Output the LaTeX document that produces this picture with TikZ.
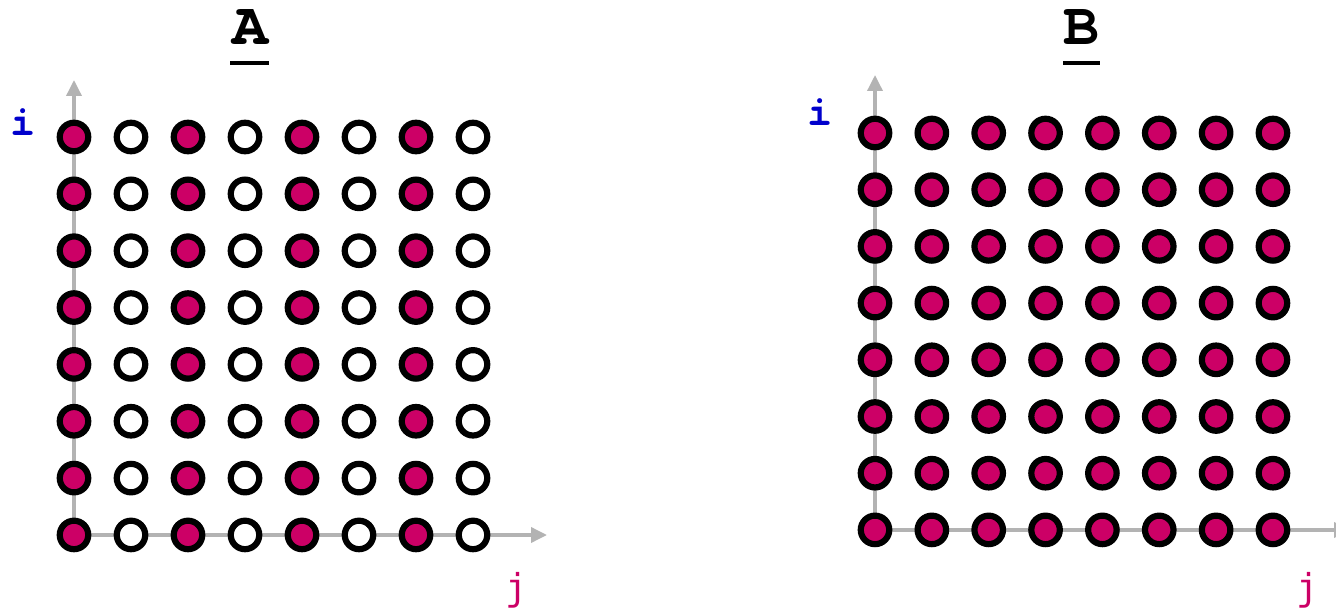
\documentclass[tikz,border=0pt]{standalone}
\usepackage{fontspec}
\setmonofont{TeX Gyre Cursor}
\newfontfamily\djmono{DejaVu Sans Mono}
\usetikzlibrary{arrows.meta}
\definecolor{mag}{HTML}{CC0066}
\definecolor{iblue}{HTML}{0000CC}
\definecolor{axgray}{HTML}{B3B3B3}
\begin{document}
\begin{tikzpicture}[x=1pt,y=-1pt,
  dotfull/.style={circle,draw=black,fill=mag,line width=6.2pt,minimum size=28.5pt,inner sep=0pt},
  dotopen/.style={circle,draw=black,fill=white,line width=6.2pt,minimum size=28.5pt,inner sep=0pt},
  axisline/.style={draw=axgray,line width=3.5pt,-{Triangle[length=16pt,width=15pt]}},
  titletext/.style={inner sep=0pt,anchor=base,text height=36pt,text depth=0pt,font=\ttfamily\bfseries\fontsize{60}{60}\selectfont},
  ulinestyle/.style={line width=4pt},
  ilabel/.style={inner sep=0pt,anchor=base,text=iblue,font=\ttfamily\bfseries\fontsize{42}{42}\selectfont},
  jlabel/.style={inner sep=0pt,anchor=base,text=mag,font=\djmono\fontsize{37}{37}\selectfont}]
\useasboundingbox (0,0) rectangle (1336,612);
% Panel A
\coordinate (oA) at (74,535);
\coordinate (yA) at (74,80);
\coordinate (xA) at (547,535);
\draw[axisline] (oA) -- (yA);
\draw[axisline] (oA) -- (xA);
\foreach \c in {0,...,7}{
  \foreach \r in {0,...,7}{
    \pgfmathsetmacro{\px}{74+57*\c}
    \pgfmathsetmacro{\py}{137+56.85*\r}
    \ifodd\c
      \node[dotopen] (a-\r-\c) at (\px,\py) {};
    \else
      \node[dotfull] (a-\r-\c) at (\px,\py) {};
    \fi
  }
}
\node[titletext] (tA) at (250,45) {A};
\coordinate (uA1) at (230,63);
\coordinate (uA2) at (269,63);
\draw[ulinestyle] (uA1) -- (uA2);
\node[ilabel] (iA) at (23,136) {i};
\node[jlabel] (jA) at (517,600) {j};
% Panel B
\coordinate (oB) at (875,530);
\coordinate (yB) at (875,75);
\coordinate (xB) at (1350,530);
\draw[axisline] (oB) -- (yB);
\draw[axisline] (oB) -- (xB);
\foreach \c in {0,...,7}{
  \foreach \r in {0,...,7}{
    \pgfmathsetmacro{\px}{875+56.85*\c}
    \pgfmathsetmacro{\py}{133+56.7*\r}
    \node[dotfull] (b-\r-\c) at (\px,\py) {};
  }
}
\node[titletext] (tB) at (1081,45) {B};
\coordinate (uB1) at (1063,63);
\coordinate (uB2) at (1100,63);
\draw[ulinestyle] (uB1) -- (uB2);
\node[ilabel] (iB) at (820,126) {i};
\node[jlabel] (jB) at (1308,600) {j};
\end{tikzpicture}
\end{document}
